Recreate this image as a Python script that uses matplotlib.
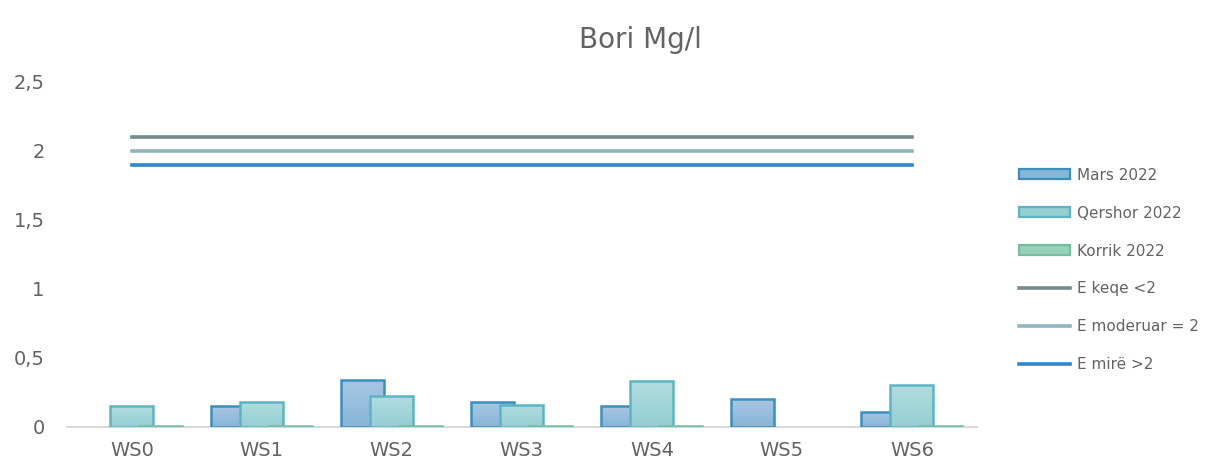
import numpy as np
import matplotlib
matplotlib.use('Agg')
import matplotlib.pyplot as plt
from matplotlib.patches import Patch
from matplotlib.lines import Line2D
from matplotlib.colors import LinearSegmentedColormap

plt.rcParams['font.family'] = ['DejaVu Sans']

# data
categories = ['WS0', 'WS1', 'WS2', 'WS3', 'WS4', 'WS5', 'WS6']
mars = [np.nan, 0.15, 0.34, 0.18, 0.15, 0.20, 0.11]
qershor = [0.15, 0.18, 0.22, 0.16, 0.33, np.nan, 0.30]
korrik = [0.005, 0.005, 0.005, 0.005, 0.005, np.nan, 0.005]
e_keqe = 2.1
e_moderuar = 2.0
e_mire = 1.9
yticks = [0, 0.5, 1, 1.5, 2, 2.5]
ytick_labels = ['0', '0,5', '1', '1,5', '2', '2,5']

series = [
    ('Mars 2022', mars, '#a9c6e2', '#86b6d8', '#3b8fbe'),
    ('Qershor 2022', qershor, '#b2dcdf', '#93cfd3', '#5bb5c1'),
    ('Korrik 2022', korrik, '#b3dcc9', '#98d0b8', '#74bfa3'),
]
lines = [
    ('E keqe <2', e_keqe, '#778a8b'),
    ('E moderuar = 2', e_moderuar, '#8fb6c0'),
    ('E mirë >2', e_mire, '#2f86c9'),
]

fig = plt.figure(figsize=(12.15, 4.68), dpi=100)
ax = fig.add_axes([0.055, 0.088, 0.749, 0.737])

x = np.arange(len(categories))
width = 0.33
step = 0.223
text_color = '#636363'

for i, (name, vals, c_top, c_bot, edge) in enumerate(series):
    offs = (i - 1) * step
    z = 2 + i
    bars = ax.bar(x + offs, vals, width, color=c_bot, linewidth=0, zorder=z)
    cmap = LinearSegmentedColormap.from_list('g%d' % i, [c_bot, c_top])
    grad = np.linspace(0, 1, 64).reshape(-1, 1)
    for b in bars:
        h = b.get_height()
        if not np.isfinite(h) or h <= 0:
            continue
        x0 = b.get_x()
        im = ax.imshow(grad, cmap=cmap, origin='lower', aspect='auto',
                       extent=[x0, x0 + b.get_width(), 0, h], zorder=z + 0.1)
        im.set_clip_path(b)
    # outline on top of the gradient
    ax.bar(x + offs, vals, width, fill=False, edgecolor=edge,
           linewidth=1.8, zorder=z + 0.2)

for name, val, col in lines:
    ax.plot(x, [val] * len(x), color=col, linewidth=2.6, zorder=6)

ax.set_xlim(-0.5, len(categories) - 0.5)
ax.set_ylim(0, 2.5)
ax.set_xticks(x)
ax.set_xticklabels(categories)
ax.set_yticks(yticks)
ax.set_yticklabels(ytick_labels)
ax.tick_params(axis='both', length=0, labelsize=14, colors=text_color)
ax.tick_params(axis='y', pad=16)
ax.tick_params(axis='x', pad=10)
for s in ['top', 'right', 'left']:
    ax.spines[s].set_visible(False)
ax.spines['bottom'].set_color('#d9d9d9')
ax.spines['bottom'].set_linewidth(1.5)
ax.spines['bottom'].set_zorder(1)

fig.text(0.527, 0.915, 'Bori Mg/l', ha='center', va='center',
         fontsize=20, color=text_color)

handles = []
for name, vals, c_top, c_bot, edge in series:
    handles.append(Patch(facecolor=c_bot, edgecolor=edge, linewidth=1.6, label=name))
for name, val, col in lines:
    handles.append(Line2D([0], [0], color=col, linewidth=2.6, label=name))

leg = fig.legend(handles=handles, loc='upper left', bbox_to_anchor=(0.832, 0.658),
                 frameon=False, fontsize=11, labelcolor=text_color,
                 handlelength=3.4, handleheight=0.6, handletextpad=0.4,
                 labelspacing=1.5, borderpad=0)

fig.savefig('out.png', dpi=100)
